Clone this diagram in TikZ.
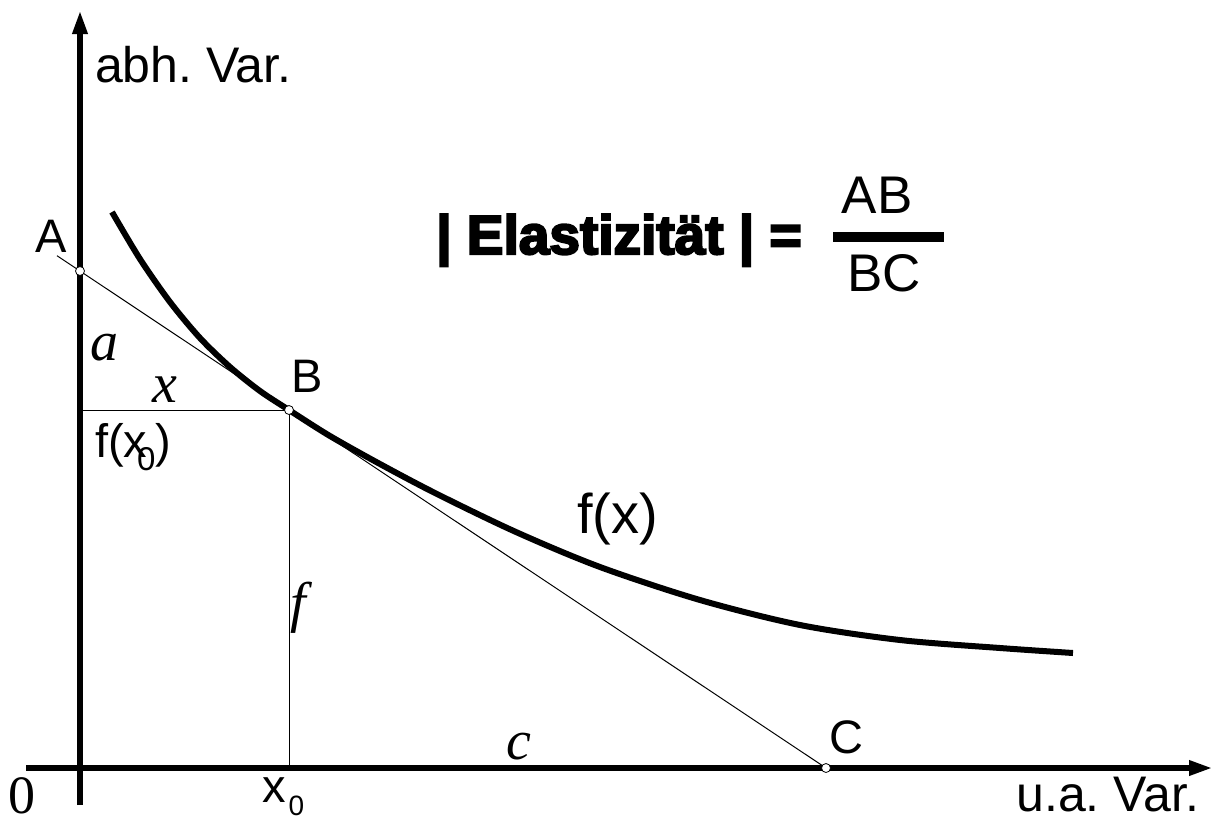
\documentclass[tikz,border=0pt]{standalone}
\usepackage{fontspec}
\setmainfont{Liberation Sans}
\newfontfamily\serifrm{Liberation Serif}
\newfontfamily\heavyfont{Liberation Sans Bold}[FakeBold=4]
\usetikzlibrary{arrows.meta}
\frenchspacing
\begin{document}
\begin{tikzpicture}[x=1pt,y=-1pt,
  lbl/.style={inner sep=0pt, outer sep=0pt, font=\fontsize{47}{50}\selectfont\frenchspacing},
  axlbl/.style={inner sep=0pt, outer sep=0pt, font=\fontsize{50}{54}\selectfont\frenchspacing},
  itl/.style={inner sep=0pt, outer sep=0pt, font=\fontsize{56}{60}\selectfont\serifrm\itshape},
  axisline/.style={line width=6.5pt, -{Triangle[length=24pt,width=14pt]}},
  thinline/.style={line width=1pt},
  curveline/.style={line width=6pt},
  ptmark/.style={circle, draw, fill=white, line width=0.8pt, minimum size=9pt, inner sep=0pt}]
\useasboundingbox (0,0) rectangle (1213,823);
% coordinates
\coordinate (ybot) at (80,805);
\coordinate (ytop) at (80,10);
\coordinate (xleft) at (26,768);
\coordinate (xright) at (1213,768);
\coordinate (A) at (80,271);
\coordinate (Aext) at (57,255.7);
\coordinate (B) at (289,410);
\coordinate (C) at (826,768);
\coordinate (By) at (80,410);
\coordinate (Bx) at (289,768);
% axes
\draw[axisline] (ybot) -- (ytop);
\draw[axisline] (xleft) -- (xright);
% thin lines
\draw[thinline] (Aext) -- (C);
\draw[thinline] (By) -- (B);
\draw[thinline] (B) -- (Bx);
% curve
\draw[curveline] plot[smooth, tension=0.5] coordinates {
 (112,212) (140,259) (170,302) (200,338) (230,367) (260,391) (289,410)
 (330,436) (380,464) (437,494) (516,532) (600,567) (700,600) (800,625)
 (900,640) (1000,648) (1073,653)};
% points
\node[ptmark] (pA) at (A) {};
\node[ptmark] (pB) at (B) {};
\node[ptmark] (pC) at (C) {};
% labels
\node[axlbl, anchor=base west] (lab1) at (95,82) {abh. Var.};
\node[axlbl, anchor=base east] (lab2) at (1199,811) {u.a. Var.};
\node[lbl, anchor=base west] (lA) at (35,252) {A};
\node[lbl, anchor=base west] (lB) at (291,392) {B};
\node[lbl, anchor=base west] (lC) at (829,753) {C};
\node[itl, anchor=base west] (la) at (90,360) {a};
\node[itl, anchor=base west] (lx) at (152,402) {x};
\node[itl, anchor=base west] (lf) at (290,621) {f};
\node[itl, anchor=base west] (lc) at (506,759) {c};
\node[lbl, anchor=base west] (lfx0) at (95,457) {f(x\kern-10pt\raisebox{-13pt}{\fontsize{33}{35}\selectfont 0})};
\node[lbl, anchor=base west] (lx0) at (262,802) {x\kern3pt\raisebox{-13pt}{\fontsize{28}{30}\selectfont 0}};
\node[inner sep=0pt, anchor=base west, font=\serifrm\fontsize{54}{58}\selectfont] (l0) at (8,813) {0};
\node[inner sep=0pt, anchor=base west, font=\fontsize{56}{60}\selectfont] (lfx) at (577,533) {f(x)};
% formula
\node[inner sep=0pt, anchor=base west, font=\heavyfont\fontsize{55}{60}\selectfont] (el) at (436,254) {| Elastizität | =};
\node[inner sep=0pt, anchor=base, font=\fontsize{53}{56}\selectfont] (ab) at (877,213) {AB};
\node[inner sep=0pt, anchor=base, font=\fontsize{53}{56}\selectfont] (bc) at (884,291) {BC};
\coordinate (fbl) at (833,236.5);
\coordinate (fbr) at (944,236.5);
\draw[line width=10pt] (fbl) -- (fbr);
\end{tikzpicture}
\end{document}
